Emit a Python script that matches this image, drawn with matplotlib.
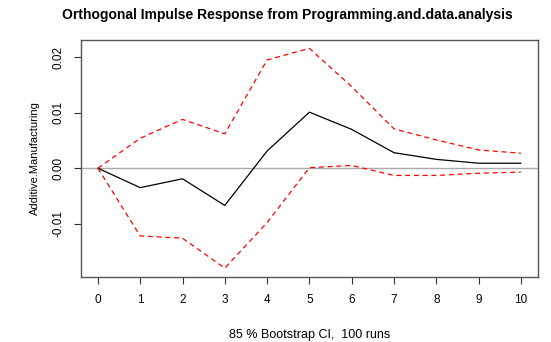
import matplotlib
matplotlib.use('Agg')
import matplotlib.pyplot as plt

plt.rcParams['font.family'] = ['Liberation Sans', 'DejaVu Sans']

# horizon and impulse response values
steps = [0, 1, 2, 3, 4, 5, 6, 7, 8, 9, 10]
irf = [0.0, -0.0035, -0.0019, -0.0067, 0.0031, 0.0101, 0.0070, 0.0028, 0.0016, 0.0009, 0.0009]
upper = [0.0, 0.0054, 0.0088, 0.0062, 0.0195, 0.0216, 0.0147, 0.0071, 0.0051, 0.0033, 0.0027]
lower = [0.0, -0.0122, -0.0126, -0.0180, -0.0098, 0.0001, 0.0005, -0.0013, -0.0013, -0.0009, -0.0007]

fig = plt.figure(figsize=(5.51, 3.42), dpi=100)
ax = fig.add_axes([0.147, 0.190, 0.829, 0.693])

ax.axhline(0, color='#aaaaaa', lw=1)
ax.plot(steps, irf, color='black', lw=0.9)
ax.plot(steps, upper, color='red', lw=0.9, ls=(0, (4, 3)))
ax.plot(steps, lower, color='red', lw=0.9, ls=(0, (4, 3)))

ax.set_xlim(-0.4, 10.4)
ax.set_ylim(-0.0196, 0.0231)
ax.set_xticks(steps)
ax.set_xticklabels([str(s) for s in steps], fontsize=8.5)
ax.set_yticks([-0.01, 0.0, 0.01, 0.02])
ax.set_yticklabels(['-0.01', '0.00', '0.01', '0.02'], fontsize=8.5, rotation=90, va='center')
ax.tick_params(direction='out', length=5, width=0.8, color='#333333', pad=7)

for s in ax.spines.values():
    s.set_color('#555555')
    s.set_linewidth(1)

ax.set_ylabel('Additive.Manufacturing', fontsize=8, labelpad=9)
fig.text(0.5617, 0.012, '85 % Bootstrap CI,  100 runs', ha='center', va='baseline', fontsize=9)
fig.text(0.5218, 0.945, 'Orthogonal Impulse Response from Programming.and.data.analysis',
         ha='center', va='baseline', fontsize=10, fontweight='bold')

fig.savefig('out.png', dpi=100)
plt.close()
